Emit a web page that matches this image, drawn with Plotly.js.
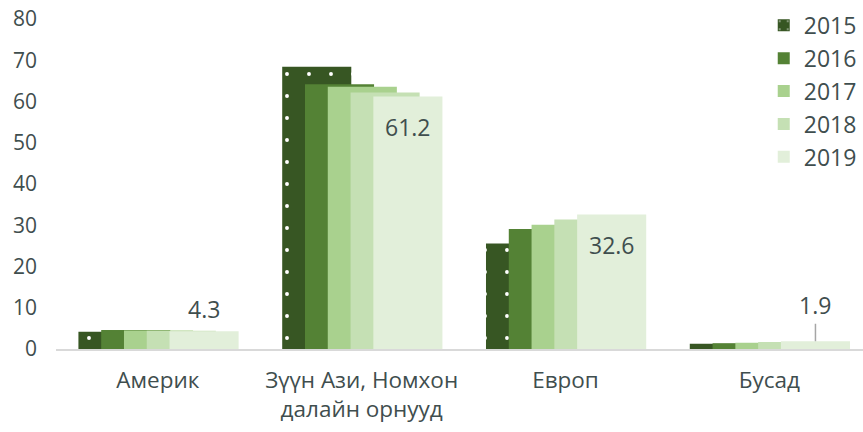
<!DOCTYPE html>
<html>
<head>
<meta charset="utf-8">
<script src="https://cdn.plot.ly/plotly-3.0.1.min.js"></script>
<style>html,body{margin:0;padding:0;background:#fff;}#chart{width:863px;height:432px;}</style>
</head>
<body>
<div id="chart"></div>
<script>
const categories = ["Америк", "Зүүн Ази, Номхон<br>далайн орнууд", "Европ", "Бусад"];
const years = ["2015", "2016", "2017", "2018", "2019"];
const v2015 = [4.2, 68.4, 25.6, 1.3];
const v2016 = [4.6, 64.2, 29.1, 1.4];
const v2017 = [4.5, 63.6, 30.1, 1.5];
const v2018 = [4.4, 62.2, 31.4, 1.7];
const v2019 = [4.3, 61.2, 32.6, 1.9];
const seriesValues = [v2015, v2016, v2017, v2018, v2019];
const colors = ["#375623", "#548235", "#a9d18e", "#c5e0b4", "#e2efda"];

const FONT = "'Open Sans', 'Noto Sans', sans-serif";
const TXT = "#3f4e4e";
const barW = 0.339, step = 0.1118, firstOff = -0.39;

const traces = years.map((yr, i) => {
  const t = {
    type: "bar",
    name: yr,
    x: categories,
    y: seriesValues[i],
    width: categories.map(() => barW),
    offset: categories.map(() => firstOff + i * step),
    marker: {color: colors[i], line: {width: 0}},
    legendgroup: "g" + i,
    hoverinfo: "skip"
  };
  if (i === 0) {
    t.marker.pattern = {shape: ".", fgcolor: "#ffffff", bgcolor: colors[0], size: 22, solidity: 0.025, fillmode: "replace"};
  }
  return t;
});

const lastIdx = years.length - 1;
const labelCenter = firstOff + lastIdx * step + barW / 2;
const labelShift = [22, -30, -30, null];
const annotations = v2019.map((v, c) => {
  const base = {
    x: c + labelCenter, y: v, xref: "x", yref: "y",
    text: v.toFixed(1),
    font: {family: FONT, size: 23, color: TXT}
  };
  if (labelShift[c] === null) {
    return Object.assign(base, {showarrow: true, arrowhead: 0, arrowwidth: 1.5, arrowcolor: "#a6a6a6", ax: 0, ay: -36, standoff: 0, borderpad: 2});
  }
  return Object.assign(base, {showarrow: false, yshift: labelShift[c]});
});

const layout = {
  width: 863, height: 432,
  margin: {l: 56, r: 0, t: 19, b: 83},
  paper_bgcolor: "#ffffff", plot_bgcolor: "#ffffff",
  barmode: "overlay",
  showlegend: true,
  legend: {
    x: 0.877, y: 1.046, xanchor: "left", yanchor: "top",
    font: {family: FONT, size: 23, color: TXT},
    tracegroupgap: 0,
    bgcolor: "rgba(0,0,0,0)"
  },
  xaxis: {
    type: "category",
    range: [-0.5, 3.46],
    showline: true, linecolor: "#d9d9d9", linewidth: 1.5,
    showgrid: false, zeroline: false, ticks: "",
    tickfont: {family: FONT, size: 22.5, color: TXT},
    ticklabelstandoff: 10
  },
  yaxis: {
    range: [0, 80], dtick: 10, tick0: 0,
    showline: false, showgrid: false, zeroline: false, ticks: "",
    tickfont: {family: FONT, size: 21, color: TXT},
    ticklabelstandoff: 18
  },
  annotations: annotations
};

Plotly.newPlot("chart", traces, layout, {staticPlot: true, displayModeBar: false});
</script>
</body>
</html>
